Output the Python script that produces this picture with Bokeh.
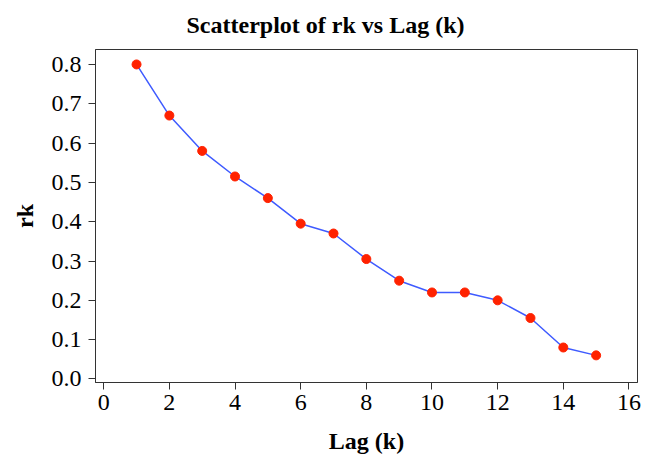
from bokeh.plotting import figure
from bokeh.models import Range1d, FixedTicker, NumeralTickFormatter
from bokeh.embed import file_html
from bokeh.resources import INLINE

lag = [1, 2, 3, 4, 5, 6, 7, 8, 9, 10, 11, 12, 13, 14, 15]
rk = [0.80, 0.67, 0.58, 0.515, 0.46, 0.395, 0.37, 0.305, 0.25, 0.22, 0.22, 0.20, 0.155, 0.08, 0.06]
x_ticks = [0, 2, 4, 6, 8, 10, 12, 14, 16]
y_ticks = [0.0, 0.1, 0.2, 0.3, 0.4, 0.5, 0.6, 0.7, 0.8]

FONT = "Liberation Serif"

p = figure(width=655, height=460, output_backend="svg", toolbar_location=None,
           title="Scatterplot of rk vs Lag (k)",
           x_range=Range1d(-0.25, 16.26), y_range=Range1d(-0.009, 0.838),
           min_border_left=95, min_border_right=18, min_border_top=49, min_border_bottom=78)
p.title.align = "left"
p.title.offset = 91
p.title.vertical_align = "top"
p.title.standoff = 20
p.title.text_font = FONT
p.title.text_font_size = "24px"
p.title.text_font_style = "bold"
p.title.text_color = "black"

p.line(lag, rk, line_color="#3f5bff", line_width=1.5)
p.scatter(lag, rk, size=9, fill_color="#ff2200", line_color="#ff2200")

p.xgrid.visible = False
p.ygrid.visible = False
p.outline_line_color = "#333333"
p.outline_line_width = 1
p.background_fill_color = "white"
p.border_fill_color = "white"

for ax in (p.xaxis[0], p.yaxis[0]):
    ax.axis_line_color = "#333333"
    ax.major_tick_line_color = "#333333"
    ax.minor_tick_line_color = None
    ax.major_tick_in = 0
    ax.major_tick_out = 7
    ax.major_label_text_font = FONT
    ax.major_label_text_font_size = "24px"
    ax.major_label_text_color = "black"
    ax.axis_label_text_font = FONT
    ax.axis_label_text_font_size = "24px"
    ax.axis_label_text_font_style = "bold"
    ax.axis_label_text_color = "black"

p.xaxis.ticker = FixedTicker(ticks=x_ticks)
p.yaxis.ticker = FixedTicker(ticks=y_ticks)
p.yaxis.formatter = NumeralTickFormatter(format="0.0")
p.xaxis.axis_label = "Lag (k)"
p.yaxis.axis_label = "rk"
p.xaxis.major_label_standoff = 5
p.yaxis.major_label_standoff = 7
p.xaxis.axis_label_standoff = 15
p.yaxis.axis_label_standoff = 11

open("out.html", "w").write(file_html(p, INLINE))
